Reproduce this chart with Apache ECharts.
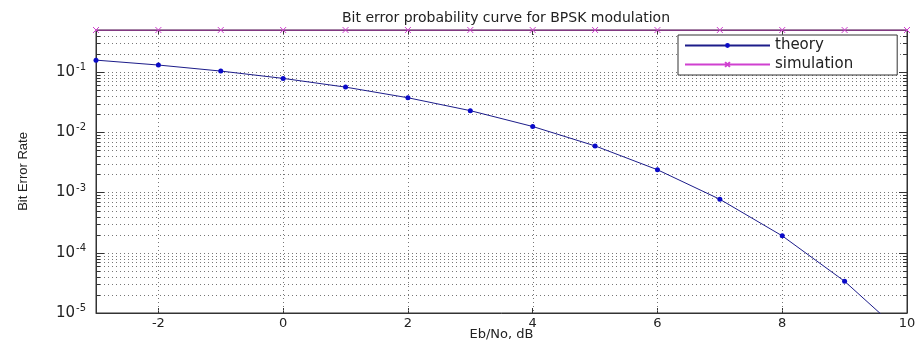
<!DOCTYPE html>
<html>
<head>
<meta charset="utf-8">
<script src="https://cdn.jsdelivr.net/npm/echarts@6/dist/echarts.min.js"></script>
<style>
  html, body { margin: 0; padding: 0; background: #fff; }
  #chart { width: 917px; height: 344px; }
</style>
</head>
<body>
<div id="chart"></div>
<script>
// Eb/No in dB
const ebNo = [-3, -2, -1, 0, 1, 2, 3, 4, 5, 6, 7, 8, 9, 10]
const theory = [0.158, 0.131, 0.104, 0.0786, 0.0563, 0.0375, 0.0229, 0.0125, 0.00595, 0.00239, 0.000773, 0.000191, 0.0000336, 0.0000039]
const simulation = [0.5, 0.5, 0.5, 0.5, 0.5, 0.5, 0.5, 0.5, 0.5, 0.5, 0.5, 0.5, 0.5, 0.5]
const xTicks = [-2, 0, 2, 4, 6, 8, 10]
const yMin = 1e-5
const yMax = 0.5

// dotted minor grid of a log axis: 2..9 in every decade
const minorY = []
for (let d = -5; d <= -1; d++) {
  for (let m = 2; m <= 9; m++) {
    const v = m * Math.pow(10, d)
    if (v < yMax) minorY.push(v)
  }
}
const gridX = xTicks.filter(v => v > -3 && v < 10)

const font = 'DejaVu Sans, sans-serif'
const dotted = { stroke: '#777', lineWidth: 1, lineDash: [1, 3] }
const crossPath = 'path://M0,0L10,10M10,0L0,10'

// horizontal minor grid line + small inward ticks on both sides
const renderMinorY = (params, api) => {
  const cs = params.coordSys
  const y = Math.round(api.coord([-3, api.value(1)])[1]) + 0.5
  return {
    type: 'group',
    children: [
      { type: 'line', shape: { x1: cs.x, y1: y, x2: cs.x + cs.width, y2: y }, style: dotted },
      { type: 'line', shape: { x1: cs.x, y1: y, x2: cs.x + 4, y2: y }, style: { stroke: '#333', lineWidth: 1 } },
      { type: 'line', shape: { x1: cs.x + cs.width - 4, y1: y, x2: cs.x + cs.width, y2: y }, style: { stroke: '#333', lineWidth: 1 } }
    ]
  }
}

// vertical major grid line
const renderGridX = (params, api) => {
  const cs = params.coordSys
  const x = Math.round(api.coord([api.value(0), yMin])[0]) + 0.5
  return { type: 'line', shape: { x1: x, y1: cs.y, x2: x, y2: cs.y + cs.height }, style: dotted }
}

const chart = echarts.init(document.getElementById('chart'))

const option = {
  animation: false,
  backgroundColor: '#fff',
  title: {
    text: 'Bit error probability curve for BPSK modulation',
    left: 501,
    textAlign: 'center',
    top: 6,
    textStyle: { fontFamily: 'DejaVu Sans', fontSize: 14, fontWeight: 'normal', color: '#222' }
  },
  grid: {
    left: 96, right: 10, top: 30, bottom: 31,
    outerBoundsMode: 'none',
    show: true, borderColor: '#333', borderWidth: 1
  },
  legend: {
    orient: 'vertical',
    left: 678,
    top: 35,
    backgroundColor: '#fff',
    borderColor: '#333',
    borderWidth: 1,
    padding: [3, 44, 3, 6],
    itemWidth: 85,
    itemHeight: 6,
    itemGap: 4,
    textStyle: { fontFamily: 'DejaVu Sans', fontSize: 15, color: '#222' },
    data: ['theory', 'simulation']
  },
  xAxis: [
    {
      type: 'value',
      min: -3,
      max: 10,
      name: 'Eb/No, dB',
      nameLocation: 'middle',
      nameGap: 15,
      nameMoveOverlap: false,
      nameTextStyle: { fontFamily: 'DejaVu Sans', fontSize: 13, color: '#222' },
      axisLine: { onZero: false, lineStyle: { color: '#333' } },
      axisTick: { inside: true, length: 5, customValues: xTicks, lineStyle: { color: '#333' } },
      axisLabel: { customValues: xTicks, fontFamily: 'DejaVu Sans', fontSize: 13, color: '#222', margin: 4 },
      splitLine: { show: false }
    },
    {
      type: 'value',
      position: 'top',
      min: -3,
      max: 10,
      axisLine: { onZero: false, lineStyle: { color: '#333' } },
      axisTick: { inside: true, length: 5, customValues: xTicks, lineStyle: { color: '#333' } },
      axisLabel: { show: false },
      splitLine: { show: false }
    }
  ],
  yAxis: [
    {
      type: 'log',
      logBase: 10,
      min: yMin,
      max: yMax,
      name: 'Bit Error Rate',
      nameLocation: 'middle',
      nameGap: 66,
      nameMoveOverlap: false,
      nameTextStyle: { fontFamily: 'Liberation Sans Narrow, Liberation Sans', fontSize: 13, color: '#222' },
      axisLine: { show: true, onZero: false, lineStyle: { color: '#333' } },
      axisTick: { inside: true, length: 8, lineStyle: { color: '#333' } },
      axisLabel: {
        showMaxLabel: false,
        margin: 10,
        formatter: v => {
          const lg = Math.log10(v)
          const e = Math.round(lg)
          if (Math.abs(lg - e) > 1e-6) return ''
          return '{b|10}{s|' + e + '}'
        },
        rich: {
          b: { fontFamily: font, fontSize: 15, color: '#222' },
          s: { fontFamily: font, fontSize: 10, color: '#222', padding: [0, 0, 9, 1] }
        }
      },
      splitLine: { show: true, lineStyle: { color: '#777', width: 1, type: [1, 3] } }
    },
    {
      type: 'log',
      logBase: 10,
      min: yMin,
      max: yMax,
      position: 'right',
      axisLine: { show: true, onZero: false, lineStyle: { color: '#333' } },
      axisTick: { inside: true, length: 8, lineStyle: { color: '#333' } },
      axisLabel: { show: false },
      splitLine: { show: false }
    }
  ],
  series: [
    {
      name: 'minorGrid',
      type: 'custom',
      silent: true,
      renderItem: renderMinorY,
      data: minorY.map(v => [-3, v]),
      z: 1
    },
    {
      name: 'gridX',
      type: 'custom',
      silent: true,
      renderItem: renderGridX,
      data: gridX.map(v => [v, yMin]),
      z: 1
    },
    {
      name: 'theory',
      type: 'line',
      data: ebNo.map((x, i) => [x, theory[i]]),
      symbol: 'circle',
      symbolSize: 5,
      lineStyle: { color: '#1c1c8a', width: 1 },
      itemStyle: { color: '#0a0ac8' },
      z: 5
    },
    {
      name: 'simulation',
      type: 'line',
      data: ebNo.map((x, i) => [x, simulation[i]]),
      symbol: crossPath,
      symbolSize: 6,
      lineStyle: { color: '#d040d0', width: 1 },
      itemStyle: { color: 'none', borderColor: '#d040d0', borderWidth: 1 },
      z: 6
    }
  ]
}

chart.setOption(option)
window.addEventListener('resize', () => chart.resize())
</script>
</body>
</html>
